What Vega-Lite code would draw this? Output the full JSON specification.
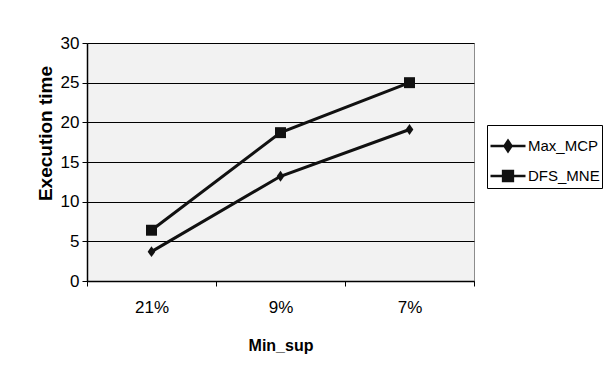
{
  "$schema": "https://vega.github.io/schema/vega-lite/v6.json",
  "width": 387,
  "height": 238,
  "autosize": {"type": "none"},
  "padding": {"left": 87, "top": 43, "right": 135, "bottom": 106},
  "background": "white",
  "data": {"values": [
    {"min_sup": "21%", "series": "Max_MCP", "time": 3.7},
    {"min_sup": "9%", "series": "Max_MCP", "time": 13.2},
    {"min_sup": "7%", "series": "Max_MCP", "time": 19.1},
    {"min_sup": "21%", "series": "DFS_MINE", "time": 6.4},
    {"min_sup": "9%", "series": "DFS_MINE", "time": 18.7},
    {"min_sup": "7%", "series": "DFS_MINE", "time": 25.0}
  ]},
  "config": {
    "view": {"fill": "#F2F2F2", "stroke": "#8C8C8C", "strokeWidth": 1},
    "font": "Liberation Sans",
    "axis": {
      "labelFont": "Liberation Sans",
      "labelFontSize": 17,
      "labelColor": "#000000",
      "titleColor": "#000000",
      "domainColor": "#000000",
      "tickColor": "#000000",
      "domainWidth": 1.5,
      "tickSize": 5
    }
  },
  "encoding": {
    "x": {
      "field": "min_sup", "type": "ordinal", "sort": ["21%", "9%", "7%"],
      "scale": {"type": "band", "paddingInner": 0, "paddingOuter": 0},
      "axis": {
        "title": "Min_sup", "labelAngle": 0, "tickBand": "extent", "grid": false,
        "labelPadding": 13, "titleFont": "Liberation Sans",
        "titleFontSize": 16, "titleFontWeight": "bold", "titlePadding": 22
      }
    },
    "y": {
      "field": "time", "type": "quantitative",
      "scale": {"domain": [0, 30], "nice": false},
      "axis": {
        "title": "Execution time", "values": [0, 5, 10, 15, 20, 25, 30],
        "grid": true, "gridColor": "#000000", "gridWidth": 1,
        "labelPadding": 3, "titleFont": "Liberation Sans", "titleFontSize": 19,
        "titleFontWeight": "bold", "titleX": -42, "titleY": 90, "titleBaseline": "middle"
      }
    }
  },
  "resolve": {"scale": {"shape": "independent"}},
  "layer": [
    {
      "mark": {"type": "line", "color": "#111111", "strokeWidth": 3},
      "encoding": {"detail": {"field": "series"}}
    },
    {
      "mark": {"type": "point", "filled": true, "opacity": 1, "color": "#111111"},
      "encoding": {
        "shape": {
          "field": "series", "type": "nominal",
          "scale": {"domain": ["Max_MCP", "DFS_MINE"], "range": ["M0,-1L0.7,0L0,1L-0.7,0Z", "square"]},
          "legend": null
        },
        "size": {"value": 120}
      }
    },
    {
      "mark": {"type": "point", "filled": false, "opacity": 0, "color": "#111111", "strokeWidth": 2.5},
      "encoding": {
        "shape": {
          "field": "series", "type": "nominal",
          "scale": {"domain": ["Max_MCP", "DFS_MINE"], "range": [
            "M-1,0H1M0,-0.3L0.2,0L0,0.3L-0.2,0ZM0,-0.18L0.12,0L0,0.18L-0.12,0ZM0,-0.06L0.04,0L0,0.06L-0.04,0Z",
            "M-1,0H1M-0.28,-0.28H0.28V0.28H-0.28ZM-0.16,-0.16H0.16V0.16H-0.16ZM-0.05,-0.05H0.05V0.05H-0.05Z"
          ]},
          "legend": {
            "title": null, "orient": "none", "legendX": 400, "legendY": 82,
            "padding": 2, "rowPadding": 0, "symbolSize": 1225,
            "strokeColor": "#000000", "fillColor": "#FFFFFF",
            "labelFont": "Liberation Sans", "labelFontSize": 15,
            "labelColor": "#000000", "labelOffset": 1,
            "symbolOpacity": 1,
            "symbolStrokeColor": "#111111", "symbolStrokeWidth": 2.5,
            "labelExpr": "datum.value === 'DFS_MINE' ? 'DFS_MNE' : datum.value"
          }
        },
        "size": {"value": 1225}
      }
    }
  ]
}
